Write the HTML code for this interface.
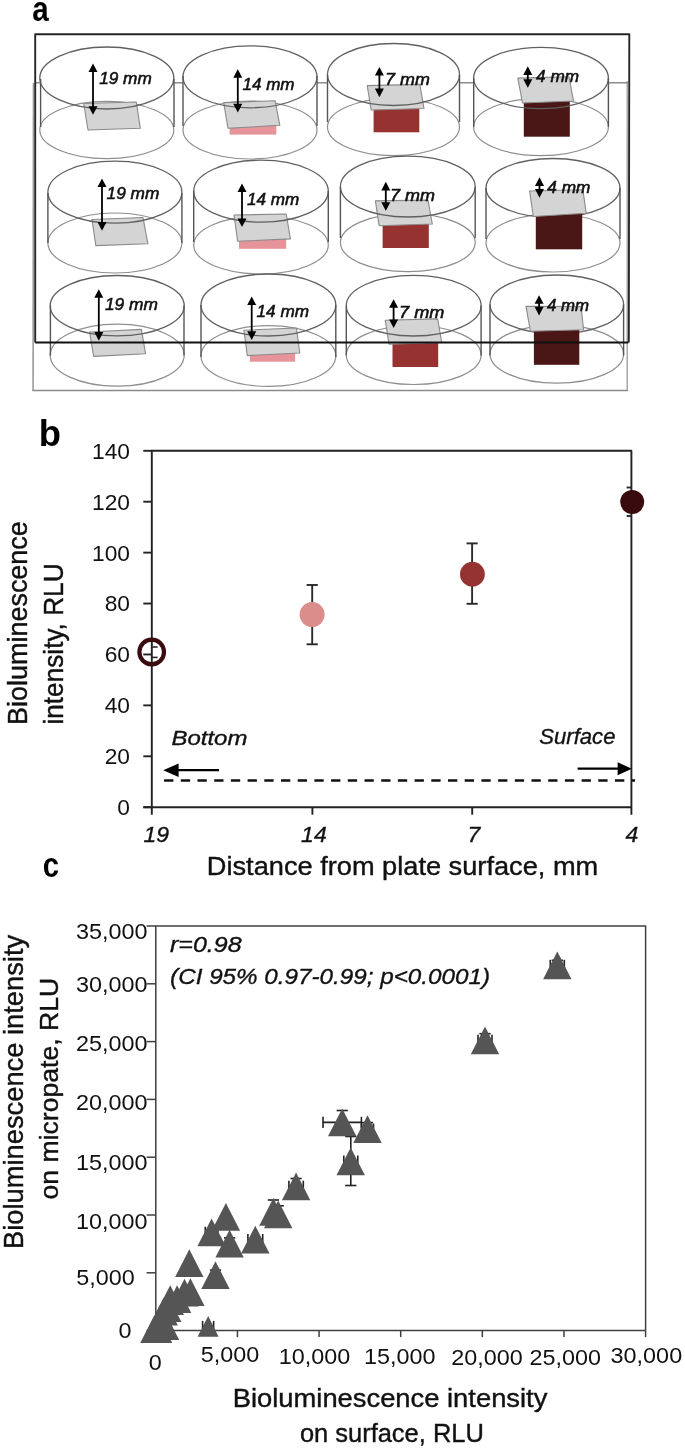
<!DOCTYPE html>
<html><head><meta charset="utf-8"><title>Figure</title>
<style>
html,body{margin:0;padding:0;background:#fff;}
body{width:685px;height:1449px;overflow:hidden;}
svg{display:block;will-change:transform;font-family:"Liberation Sans", sans-serif;}
</style></head>
<body>
<svg width="685" height="1449" viewBox="0 0 685 1449">
<rect x="0" y="0" width="685" height="1449" fill="#fff"/>
<g transform="translate(32.21 21.1) scale(0.8438 1)"><text x="0" y="0" font-size="35" fill="#000" font-weight="bold">a</text></g>
<line x1="33.5" y1="83" x2="33.1" y2="391" stroke="#9a9a9a" stroke-width="1.6"/>
<line x1="627.2" y1="81" x2="627.2" y2="391" stroke="#9a9a9a" stroke-width="1.3"/>
<line x1="32.6" y1="390.5" x2="627.8" y2="390.5" stroke="#8a8a8a" stroke-width="1.5"/>
<line x1="35.5" y1="82.8" x2="40.6" y2="82.8" stroke="#7a7a7a" stroke-width="1.3"/>
<line x1="174" y1="82.8" x2="183" y2="82.8" stroke="#7a7a7a" stroke-width="1.3"/>
<line x1="317" y1="82.8" x2="327.5" y2="82.8" stroke="#7a7a7a" stroke-width="1.3"/>
<line x1="459.5" y1="82.8" x2="473.7" y2="82.8" stroke="#7a7a7a" stroke-width="1.3"/>
<line x1="608.4" y1="82.8" x2="627.5" y2="82.8" stroke="#7a7a7a" stroke-width="1.3"/>
<ellipse cx="106.8" cy="130" rx="67" ry="28.6" fill="none" stroke="#8e8e8e" stroke-width="1.2"/>
<ellipse cx="250" cy="130" rx="67" ry="29" fill="none" stroke="#8e8e8e" stroke-width="1.2"/>
<ellipse cx="393.5" cy="127" rx="66" ry="28.6" fill="none" stroke="#8e8e8e" stroke-width="1.2"/>
<ellipse cx="541" cy="127" rx="67.4" ry="28.6" fill="none" stroke="#8e8e8e" stroke-width="1.2"/>
<ellipse cx="114.9" cy="243" rx="67" ry="30" fill="none" stroke="#8e8e8e" stroke-width="1.2"/>
<ellipse cx="261" cy="245" rx="67.3" ry="29" fill="none" stroke="#8e8e8e" stroke-width="1.2"/>
<ellipse cx="407.8" cy="242.6" rx="67.4" ry="29" fill="none" stroke="#8e8e8e" stroke-width="1.2"/>
<ellipse cx="553" cy="243" rx="67" ry="29" fill="none" stroke="#8e8e8e" stroke-width="1.2"/>
<ellipse cx="117.2" cy="355.2" rx="67" ry="31" fill="none" stroke="#8e8e8e" stroke-width="1.2"/>
<ellipse cx="268.4" cy="356" rx="67.4" ry="30.4" fill="none" stroke="#8e8e8e" stroke-width="1.2"/>
<ellipse cx="413.7" cy="355" rx="67.4" ry="29.5" fill="none" stroke="#8e8e8e" stroke-width="1.2"/>
<ellipse cx="556.8" cy="354" rx="66.8" ry="29.2" fill="none" stroke="#8e8e8e" stroke-width="1.2"/>
<polygon points="83.7,103.5 136.3,102 140.3,128.3 88,130" fill="#d4d4d4" stroke="#8a8a8a" stroke-width="1.1" stroke-linejoin="round"/>
<rect x="229.6" y="124.3" width="46.7" height="10.3" fill="#e6939a"/>
<polygon points="223.7,102.6 275.1,100.7 279.8,125.3 228,128.3" fill="#d4d4d4" stroke="#8a8a8a" stroke-width="1.1" stroke-linejoin="round"/>
<rect x="373.6" y="106" width="45.7" height="26.3" fill="#963331"/>
<polygon points="367.2,85.6 419.8,84.4 424,108.5 371.2,110" fill="#d4d4d4" stroke="#8a8a8a" stroke-width="1.1" stroke-linejoin="round"/>
<rect x="523.8" y="99" width="46" height="37.7" fill="#4a1616"/>
<polygon points="517.8,78.1 569,76.8 573.5,101 522.5,103" fill="#d4d4d4" stroke="#8a8a8a" stroke-width="1.1" stroke-linejoin="round"/>
<polygon points="92,219.5 143,217.5 147.9,243.8 95.8,245.6" fill="#d4d4d4" stroke="#8a8a8a" stroke-width="1.1" stroke-linejoin="round"/>
<rect x="239" y="237.3" width="47.2" height="11.5" fill="#e6939a"/>
<polygon points="234.1,215 286.2,214 290.4,238.9 237.6,241.3" fill="#d4d4d4" stroke="#8a8a8a" stroke-width="1.1" stroke-linejoin="round"/>
<rect x="382.6" y="221.7" width="46.2" height="26.3" fill="#963331"/>
<polygon points="375.4,200.9 428,200.1 432.3,224 379.1,225.7" fill="#d4d4d4" stroke="#8a8a8a" stroke-width="1.1" stroke-linejoin="round"/>
<polygon points="89.6,332 141.4,329.4 145.6,353.8 93.6,356.4" fill="#d4d4d4" stroke="#8a8a8a" stroke-width="1.1" stroke-linejoin="round"/>
<rect x="249.9" y="351.6" width="45.2" height="10.1" fill="#e6939a"/>
<polygon points="243.9,330.2 296.4,328 299.8,353 247.3,355.6" fill="#d4d4d4" stroke="#8a8a8a" stroke-width="1.1" stroke-linejoin="round"/>
<rect x="392.5" y="341.1" width="45.7" height="25.9" fill="#963331"/>
<polygon points="385.2,320.2 437.7,318.9 441.7,342.5 389.1,344.3" fill="#d4d4d4" stroke="#8a8a8a" stroke-width="1.1" stroke-linejoin="round"/>
<ellipse cx="106.8" cy="78" rx="67" ry="31" fill="none" stroke="#606060" stroke-width="1.3"/>
<line x1="40.6" y1="79" x2="40.6" y2="127" stroke="#555" stroke-width="1.4"/>
<line x1="174" y1="79" x2="174" y2="127" stroke="#555" stroke-width="1.4"/>
<ellipse cx="250" cy="76.8" rx="67" ry="31" fill="none" stroke="#606060" stroke-width="1.3"/>
<line x1="183" y1="76" x2="183" y2="126" stroke="#555" stroke-width="1.4"/>
<line x1="317" y1="76" x2="317" y2="126" stroke="#555" stroke-width="1.4"/>
<ellipse cx="393.5" cy="74.5" rx="66" ry="31" fill="none" stroke="#606060" stroke-width="1.3"/>
<line x1="327.5" y1="75" x2="327.5" y2="122" stroke="#555" stroke-width="1.4"/>
<line x1="459.5" y1="75" x2="459.5" y2="122" stroke="#555" stroke-width="1.4"/>
<ellipse cx="541" cy="78" rx="67.4" ry="30.7" fill="none" stroke="#606060" stroke-width="1.3"/>
<line x1="473.7" y1="78" x2="473.7" y2="126.7" stroke="#555" stroke-width="1.4"/>
<line x1="608.4" y1="78" x2="608.4" y2="126.7" stroke="#555" stroke-width="1.4"/>
<ellipse cx="114.9" cy="192.2" rx="67" ry="31" fill="none" stroke="#606060" stroke-width="1.3"/>
<line x1="47.9" y1="193" x2="47.9" y2="243" stroke="#555" stroke-width="1.4"/>
<line x1="181.9" y1="193" x2="181.9" y2="243" stroke="#555" stroke-width="1.4"/>
<ellipse cx="261" cy="191.2" rx="67.3" ry="31" fill="none" stroke="#606060" stroke-width="1.3"/>
<line x1="193.7" y1="191" x2="193.7" y2="242" stroke="#555" stroke-width="1.4"/>
<line x1="328.3" y1="191" x2="328.3" y2="242" stroke="#555" stroke-width="1.4"/>
<ellipse cx="407.8" cy="186.6" rx="67.4" ry="30.4" fill="none" stroke="#606060" stroke-width="1.3"/>
<line x1="340.4" y1="187" x2="340.4" y2="238" stroke="#555" stroke-width="1.4"/>
<line x1="475.2" y1="187" x2="475.2" y2="238" stroke="#555" stroke-width="1.4"/>
<ellipse cx="553" cy="188" rx="67" ry="29.5" fill="none" stroke="#606060" stroke-width="1.3"/>
<line x1="486" y1="188" x2="486" y2="239" stroke="#555" stroke-width="1.4"/>
<line x1="620" y1="188" x2="620" y2="239" stroke="#555" stroke-width="1.4"/>
<ellipse cx="117.2" cy="305.7" rx="67" ry="30.2" fill="none" stroke="#606060" stroke-width="1.3"/>
<line x1="50.4" y1="305.7" x2="50.4" y2="355.6" stroke="#555" stroke-width="1.4"/>
<line x1="184" y1="305.7" x2="184" y2="355.6" stroke="#555" stroke-width="1.4"/>
<ellipse cx="268.4" cy="305" rx="67.4" ry="31" fill="none" stroke="#606060" stroke-width="1.3"/>
<line x1="201" y1="305" x2="201" y2="357" stroke="#555" stroke-width="1.4"/>
<line x1="335.8" y1="305" x2="335.8" y2="357" stroke="#555" stroke-width="1.4"/>
<ellipse cx="413.7" cy="305.7" rx="67.4" ry="30.3" fill="none" stroke="#606060" stroke-width="1.3"/>
<line x1="346.3" y1="305.7" x2="346.3" y2="355.6" stroke="#555" stroke-width="1.4"/>
<line x1="481.1" y1="305.7" x2="481.1" y2="355.6" stroke="#555" stroke-width="1.4"/>
<ellipse cx="556.8" cy="304.4" rx="66.8" ry="29.4" fill="none" stroke="#606060" stroke-width="1.3"/>
<line x1="490" y1="304.4" x2="490" y2="355.6" stroke="#555" stroke-width="1.4"/>
<line x1="623.6" y1="304.4" x2="623.6" y2="355.6" stroke="#555" stroke-width="1.4"/>
<rect x="535.8" y="211" width="46.4" height="38.3" fill="#4a1616"/>
<polygon points="529.6,191 582.9,189.7 586.2,213.3 533.3,216.5" fill="#d4d4d4" stroke="#8a8a8a" stroke-width="1.1" stroke-linejoin="round"/>
<rect x="533.9" y="328" width="45.4" height="36.8" fill="#4a1616"/>
<polygon points="526,306.3 581,306.6 583.6,329.7 530.4,331.2" fill="#d4d4d4" stroke="#8a8a8a" stroke-width="1.1" stroke-linejoin="round"/>
<line x1="93" y1="71" x2="93" y2="107.2" stroke="#000" stroke-width="1.8"/>
<polygon points="93,63.4 88.5,72 97.5,72" fill="#000" stroke="none" stroke-width="1"/>
<polygon points="93,114.8 88.5,106.2 97.5,106.2" fill="#000" stroke="none" stroke-width="1"/>
<g transform="translate(99.17 83.7) scale(1.0069 1)"><text x="0" y="0" font-size="17.1" fill="#111" font-style="italic" stroke="#111" stroke-width="0.55">19 mm</text></g>
<line x1="237.8" y1="76.8" x2="237.8" y2="104.8" stroke="#000" stroke-width="1.8"/>
<polygon points="237.8,69.2 233.3,77.8 242.3,77.8" fill="#000" stroke="none" stroke-width="1"/>
<polygon points="237.8,112.4 233.3,103.8 242.3,103.8" fill="#000" stroke="none" stroke-width="1"/>
<g transform="translate(242.47 90) scale(0.9971 1)"><text x="0" y="0" font-size="17.1" fill="#111" font-style="italic" stroke="#111" stroke-width="0.55">14 mm</text></g>
<line x1="379.4" y1="74.5" x2="379.4" y2="89.6" stroke="#000" stroke-width="1.8"/>
<polygon points="379.4,66.9 374.9,75.5 383.9,75.5" fill="#000" stroke="none" stroke-width="1"/>
<polygon points="379.4,97.2 374.9,88.6 383.9,88.6" fill="#000" stroke="none" stroke-width="1"/>
<g transform="translate(385.12 85.4) scale(1.0473 1)"><text x="0" y="0" font-size="17.1" fill="#111" font-style="italic" stroke="#111" stroke-width="0.55">7 mm</text></g>
<line x1="527.8" y1="73.9" x2="527.8" y2="80.2" stroke="#000" stroke-width="1.8"/>
<polygon points="527.8,66.3 523.3,74.9 532.3,74.9" fill="#000" stroke="none" stroke-width="1"/>
<polygon points="527.8,87.8 523.3,79.2 532.3,79.2" fill="#000" stroke="none" stroke-width="1"/>
<g transform="translate(536.11 82) scale(1.0045 1)"><text x="0" y="0" font-size="17.1" fill="#111" font-style="italic" stroke="#111" stroke-width="0.55">4 mm</text></g>
<line x1="102" y1="186.1" x2="102" y2="223.1" stroke="#000" stroke-width="1.8"/>
<polygon points="102,178.5 97.5,187.1 106.5,187.1" fill="#000" stroke="none" stroke-width="1"/>
<polygon points="102,230.7 97.5,222.1 106.5,222.1" fill="#000" stroke="none" stroke-width="1"/>
<g transform="translate(106.57 198.9) scale(1.0108 1)"><text x="0" y="0" font-size="17.1" fill="#111" font-style="italic" stroke="#111" stroke-width="0.55">19 mm</text></g>
<line x1="242" y1="191.1" x2="242" y2="219.4" stroke="#000" stroke-width="1.8"/>
<polygon points="242,183.5 237.5,192.1 246.5,192.1" fill="#000" stroke="none" stroke-width="1"/>
<polygon points="242,227 237.5,218.4 246.5,218.4" fill="#000" stroke="none" stroke-width="1"/>
<g transform="translate(247.07 204.6) scale(1.0010 1)"><text x="0" y="0" font-size="17.1" fill="#111" font-style="italic" stroke="#111" stroke-width="0.55">14 mm</text></g>
<line x1="385.8" y1="189.4" x2="385.8" y2="203.2" stroke="#000" stroke-width="1.8"/>
<polygon points="385.8,181.8 381.3,190.4 390.3,190.4" fill="#000" stroke="none" stroke-width="1"/>
<polygon points="385.8,210.8 381.3,202.2 390.3,202.2" fill="#000" stroke="none" stroke-width="1"/>
<g transform="translate(390.11 201.4) scale(1.0523 1)"><text x="0" y="0" font-size="17.1" fill="#111" font-style="italic" stroke="#111" stroke-width="0.55">7 mm</text></g>
<line x1="539.5" y1="184.9" x2="539.5" y2="190.1" stroke="#000" stroke-width="1.8"/>
<polygon points="539.5,177.3 535,185.9 544,185.9" fill="#000" stroke="none" stroke-width="1"/>
<polygon points="539.5,197.7 535,189.1 544,189.1" fill="#000" stroke="none" stroke-width="1"/>
<g transform="translate(547.31 193.2) scale(1.0093 1)"><text x="0" y="0" font-size="17.1" fill="#111" font-style="italic" stroke="#111" stroke-width="0.55">4 mm</text></g>
<line x1="98.8" y1="296.8" x2="98.8" y2="333.1" stroke="#000" stroke-width="1.8"/>
<polygon points="98.8,289.2 94.3,297.8 103.3,297.8" fill="#000" stroke="none" stroke-width="1"/>
<polygon points="98.8,340.7 94.3,332.1 103.3,332.1" fill="#000" stroke="none" stroke-width="1"/>
<g transform="translate(104.97 309.6) scale(1.0147 1)"><text x="0" y="0" font-size="17.1" fill="#111" font-style="italic" stroke="#111" stroke-width="0.55">19 mm</text></g>
<line x1="251.7" y1="304.1" x2="251.7" y2="332.3" stroke="#000" stroke-width="1.8"/>
<polygon points="251.7,296.5 247.2,305.1 256.2,305.1" fill="#000" stroke="none" stroke-width="1"/>
<polygon points="251.7,339.9 247.2,331.3 256.2,331.3" fill="#000" stroke="none" stroke-width="1"/>
<g transform="translate(256.57 316.7) scale(1.0030 1)"><text x="0" y="0" font-size="17.1" fill="#111" font-style="italic" stroke="#111" stroke-width="0.55">14 mm</text></g>
<line x1="393.6" y1="306.8" x2="393.6" y2="320.4" stroke="#000" stroke-width="1.8"/>
<polygon points="393.6,299.2 389.1,307.8 398.1,307.8" fill="#000" stroke="none" stroke-width="1"/>
<polygon points="393.6,328 389.1,319.4 398.1,319.4" fill="#000" stroke="none" stroke-width="1"/>
<g transform="translate(399.1 318) scale(1.0598 1)"><text x="0" y="0" font-size="17.1" fill="#111" font-style="italic" stroke="#111" stroke-width="0.55">7 mm</text></g>
<line x1="539.1" y1="302.8" x2="539.1" y2="307.8" stroke="#000" stroke-width="1.8"/>
<polygon points="539.1,295.2 534.6,303.8 543.6,303.8" fill="#000" stroke="none" stroke-width="1"/>
<polygon points="539.1,315.4 534.6,306.8 543.6,306.8" fill="#000" stroke="none" stroke-width="1"/>
<g transform="translate(546.92 310.7) scale(0.9853 1)"><text x="0" y="0" font-size="17.1" fill="#111" font-style="italic" stroke="#111" stroke-width="0.55">4 mm</text></g>
<path d="M35.2,342.6 L35.2,34.2 L629.3,34.2 L628.8,342.6" fill="none" stroke="#262626" stroke-width="1.9" stroke-linejoin="round"/>
<line x1="35.2" y1="342.6" x2="628.4" y2="342.6" stroke="#111" stroke-width="2"/>
<g transform="translate(38.83 445.6) scale(1.0082 1)"><text x="0" y="0" font-size="36.14" fill="#000" font-weight="bold">b</text></g>
<path d="M151.8,814.7 L151.8,450.8 L631.4,450.8 L631.4,814.7" fill="none" stroke="#222" stroke-width="1.9" stroke-linejoin="round"/>
<line x1="143.3" y1="807.2" x2="631.4" y2="807.2" stroke="#222" stroke-width="1.9"/>
<line x1="143.3" y1="807.2" x2="151.8" y2="807.2" stroke="#222" stroke-width="1.9"/>
<g transform="translate(117.26 815.1) scale(1.0134 1)"><text x="0" y="0" font-size="22.46" fill="#111">0</text></g>
<line x1="143.3" y1="756.29" x2="151.8" y2="756.29" stroke="#222" stroke-width="1.9"/>
<g transform="translate(104.63 764.19) scale(1.0134 1)"><text x="0" y="0" font-size="22.46" fill="#111">20</text></g>
<line x1="143.3" y1="705.37" x2="151.8" y2="705.37" stroke="#222" stroke-width="1.9"/>
<g transform="translate(104.63 713.27) scale(1.0134 1)"><text x="0" y="0" font-size="22.46" fill="#111">40</text></g>
<line x1="143.3" y1="654.46" x2="151.8" y2="654.46" stroke="#222" stroke-width="1.9"/>
<g transform="translate(104.63 662.36) scale(1.0134 1)"><text x="0" y="0" font-size="22.46" fill="#111">60</text></g>
<line x1="143.3" y1="603.54" x2="151.8" y2="603.54" stroke="#222" stroke-width="1.9"/>
<g transform="translate(104.63 611.44) scale(1.0134 1)"><text x="0" y="0" font-size="22.46" fill="#111">80</text></g>
<line x1="143.3" y1="552.63" x2="151.8" y2="552.63" stroke="#222" stroke-width="1.9"/>
<g transform="translate(91.99 560.53) scale(1.0134 1)"><text x="0" y="0" font-size="22.46" fill="#111">100</text></g>
<line x1="143.3" y1="501.71" x2="151.8" y2="501.71" stroke="#222" stroke-width="1.9"/>
<g transform="translate(91.99 509.61) scale(1.0134 1)"><text x="0" y="0" font-size="22.46" fill="#111">120</text></g>
<line x1="143.3" y1="450.8" x2="151.8" y2="450.8" stroke="#222" stroke-width="1.9"/>
<g transform="translate(91.99 458.7) scale(1.0134 1)"><text x="0" y="0" font-size="22.46" fill="#111">140</text></g>
<line x1="312.4" y1="807.2" x2="312.4" y2="814.7" stroke="#222" stroke-width="1.9"/>
<line x1="472.2" y1="807.2" x2="472.2" y2="814.7" stroke="#222" stroke-width="1.9"/>
<g transform="translate(143.42 842.4) scale(1.0307 1)"><text x="0" y="0" font-size="22.32" fill="#111" font-style="italic" stroke="#111" stroke-width="0.35">19</text></g>
<g transform="translate(301.12 842.4) scale(1.0307 1)"><text x="0" y="0" font-size="22.32" fill="#111" font-style="italic" stroke="#111" stroke-width="0.35">14</text></g>
<g transform="translate(467.48 842.4) scale(1.0307 1)"><text x="0" y="0" font-size="22.32" fill="#111" font-style="italic" stroke="#111" stroke-width="0.35">7</text></g>
<g transform="translate(625.48 842.4) scale(1.0307 1)"><text x="0" y="0" font-size="22.32" fill="#111" font-style="italic" stroke="#111" stroke-width="0.35">4</text></g>
<g transform="translate(206.82 874.7) scale(1.0427 1)"><text x="0" y="0" font-size="26.09" fill="#111" stroke="#111" stroke-width="0.4">Distance from plate surface, mm</text></g>
<g transform="translate(27.3 722.9) rotate(-90) translate(-2.16 0) scale(0.9902 1)"><text x="0" y="0" font-size="27.25" fill="#111" stroke="#111" stroke-width="0.4">Bioluminescence</text></g>
<g transform="translate(63.3 722.9) rotate(-90) translate(-1.7 0) scale(0.9523 1)"><text x="0" y="0" font-size="27.54" fill="#111" stroke="#111" stroke-width="0.4">intensity, RLU</text></g>
<g transform="translate(171.48 745.2) scale(1.1819 1)"><text x="0" y="0" font-size="20.29" fill="#111" font-style="italic" stroke="#111" stroke-width="0.35">Bottom</text></g>
<g transform="translate(539.24 744) scale(1.0059 1)"><text x="0" y="0" font-size="22" fill="#111" font-style="italic" stroke="#111" stroke-width="0.35">Surface</text></g>
<line x1="178" y1="770.2" x2="219" y2="770.2" stroke="#000" stroke-width="2.2"/>
<polygon points="163.2,770.2 178.6,763.5 178.6,776.9" fill="#000" stroke="none" stroke-width="1"/>
<line x1="577.6" y1="768.7" x2="618" y2="768.7" stroke="#000" stroke-width="2.2"/>
<polygon points="631.8,768.7 617.6,762.2 617.6,775.2" fill="#000" stroke="none" stroke-width="1"/>
<line x1="164.1" y1="780.5" x2="635" y2="780.5" stroke="#111" stroke-width="2.3" stroke-dasharray="9.3 7.4"/>
<line x1="151.8" y1="647" x2="157.6" y2="647" stroke="#2a2a2a" stroke-width="1.6"/>
<line x1="151.8" y1="657.4" x2="157.6" y2="657.4" stroke="#2a2a2a" stroke-width="1.6"/>
<circle cx="151.7" cy="652" r="12.3" fill="none" stroke="#3a0c0e" stroke-width="4.2"/>
<line x1="312.2" y1="585" x2="312.2" y2="644.3" stroke="#2a2a2a" stroke-width="1.9"/>
<line x1="306.6" y1="585" x2="317.8" y2="585" stroke="#2a2a2a" stroke-width="1.9"/>
<line x1="306.6" y1="644.3" x2="317.8" y2="644.3" stroke="#2a2a2a" stroke-width="1.9"/>
<circle cx="312.1" cy="614.6" r="12.5" fill="#db8d8c"/>
<line x1="472.1" y1="543.4" x2="472.1" y2="603.8" stroke="#2a2a2a" stroke-width="1.9"/>
<line x1="466.5" y1="543.4" x2="477.7" y2="543.4" stroke="#2a2a2a" stroke-width="1.9"/>
<line x1="466.5" y1="603.8" x2="477.7" y2="603.8" stroke="#2a2a2a" stroke-width="1.9"/>
<circle cx="472.4" cy="574.2" r="12.4" fill="#953232"/>
<line x1="626.6" y1="487.5" x2="632" y2="487.5" stroke="#2a2a2a" stroke-width="1.9"/>
<line x1="626.6" y1="516" x2="632" y2="516" stroke="#2a2a2a" stroke-width="1.9"/>
<circle cx="632.2" cy="502" r="12" fill="#380c0e"/>
<g transform="translate(42.73 876.8) scale(0.8365 1)"><text x="0" y="0" font-size="35" fill="#000" font-weight="bold">c</text></g>
<path d="M155.8,1330.6 L155.8,926 L645.6,926 L645.6,1330.6" fill="none" stroke="#404040" stroke-width="1.5" stroke-linejoin="round"/>
<line x1="155.8" y1="1330.6" x2="645.6" y2="1330.6" stroke="#404040" stroke-width="1.5"/>
<line x1="146.6" y1="1330.6" x2="155.8" y2="1330.6" stroke="#404040" stroke-width="1.5"/>
<line x1="146.6" y1="1272.8" x2="155.8" y2="1272.8" stroke="#404040" stroke-width="1.5"/>
<line x1="146.6" y1="1215" x2="155.8" y2="1215" stroke="#404040" stroke-width="1.5"/>
<line x1="146.6" y1="1157.2" x2="155.8" y2="1157.2" stroke="#404040" stroke-width="1.5"/>
<line x1="146.6" y1="1099.4" x2="155.8" y2="1099.4" stroke="#404040" stroke-width="1.5"/>
<line x1="146.6" y1="1041.6" x2="155.8" y2="1041.6" stroke="#404040" stroke-width="1.5"/>
<line x1="146.6" y1="983.8" x2="155.8" y2="983.8" stroke="#404040" stroke-width="1.5"/>
<line x1="146.6" y1="926" x2="155.8" y2="926" stroke="#404040" stroke-width="1.5"/>
<line x1="237.43" y1="1330.6" x2="237.43" y2="1337.1" stroke="#404040" stroke-width="1.5"/>
<line x1="319.07" y1="1330.6" x2="319.07" y2="1337.1" stroke="#404040" stroke-width="1.5"/>
<line x1="400.7" y1="1330.6" x2="400.7" y2="1337.1" stroke="#404040" stroke-width="1.5"/>
<line x1="482.33" y1="1330.6" x2="482.33" y2="1337.1" stroke="#404040" stroke-width="1.5"/>
<line x1="563.97" y1="1330.6" x2="563.97" y2="1337.1" stroke="#404040" stroke-width="1.5"/>
<line x1="645.6" y1="1330.6" x2="645.6" y2="1337.1" stroke="#404040" stroke-width="1.5"/>
<g transform="translate(75.96 938.6) scale(1.0986 1)"><text x="0" y="0" font-size="21.29" fill="#111">35,000</text></g>
<g transform="translate(75.96 991.9) scale(1.0986 1)"><text x="0" y="0" font-size="21.29" fill="#111">30,000</text></g>
<g transform="translate(75.96 1050.5) scale(1.0986 1)"><text x="0" y="0" font-size="21.29" fill="#111">25,000</text></g>
<g transform="translate(75.96 1110.2) scale(1.0986 1)"><text x="0" y="0" font-size="21.29" fill="#111">20,000</text></g>
<g transform="translate(75.96 1169.6) scale(1.0986 1)"><text x="0" y="0" font-size="21.29" fill="#111">15,000</text></g>
<g transform="translate(75.96 1228.5) scale(1.0986 1)"><text x="0" y="0" font-size="21.29" fill="#111">10,000</text></g>
<g transform="translate(76.26 1284.8) scale(1.0986 1)"><text x="0" y="0" font-size="21.29" fill="#111">5,000</text></g>
<g transform="translate(118.54 1338.4) scale(1.0986 1)"><text x="0" y="0" font-size="21.29" fill="#111">0</text></g>
<g transform="translate(148.65 1370.1) scale(1.0986 1)"><text x="0" y="0" font-size="21.29" fill="#111">0</text></g>
<g transform="translate(200.86 1361.6) scale(1.0986 1)"><text x="0" y="0" font-size="21.29" fill="#111">5,000</text></g>
<g transform="translate(278.76 1363.8) scale(1.0986 1)"><text x="0" y="0" font-size="21.29" fill="#111">10,000</text></g>
<g transform="translate(363.91 1364) scale(1.0986 1)"><text x="0" y="0" font-size="21.29" fill="#111">15,000</text></g>
<g transform="translate(451.35 1365.1) scale(1.0986 1)"><text x="0" y="0" font-size="21.29" fill="#111">20,000</text></g>
<g transform="translate(529.55 1364.9) scale(1.0986 1)"><text x="0" y="0" font-size="21.29" fill="#111">25,000</text></g>
<g transform="translate(610.61 1363) scale(1.0986 1)"><text x="0" y="0" font-size="21.29" fill="#111">30,000</text></g>
<g transform="translate(232.71 1407) scale(1.0488 1)"><text x="0" y="0" font-size="26.09" fill="#111" stroke="#111" stroke-width="0.4">Bioluminescence intensity</text></g>
<g transform="translate(299.88 1442.2) scale(0.9764 1)"><text x="0" y="0" font-size="26.09" fill="#111" stroke="#111" stroke-width="0.4">on surface, RLU</text></g>
<g transform="translate(22.7 1246.8) rotate(-90) translate(-2.19 0) scale(1.0029 1)"><text x="0" y="0" font-size="27.25" fill="#111" stroke="#111" stroke-width="0.4">Bioluminescence intensity</text></g>
<g transform="translate(57.7 1198.4) rotate(-90) translate(-1.06 0) scale(1.0194 1)"><text x="0" y="0" font-size="26.09" fill="#111" stroke="#111" stroke-width="0.4">on micropate, RLU</text></g>
<g transform="translate(170.03 951.8) scale(1.1218 1)"><text x="0" y="0" font-size="22.29" fill="#111" font-style="italic" stroke="#111" stroke-width="0.35">r=0.98</text></g>
<g transform="translate(170.11 984.4) scale(1.0607 1)"><text x="0" y="0" font-size="22.86" fill="#111" font-style="italic" stroke="#111" stroke-width="0.35">(CI 95% 0.97-0.99; p&lt;0.0001)</text></g>
<line x1="342.2" y1="1110.5" x2="342.2" y2="1134.3" stroke="#222" stroke-width="1.6"/>
<line x1="336.6" y1="1110.5" x2="347.8" y2="1110.5" stroke="#222" stroke-width="1.6"/>
<line x1="336.6" y1="1134.3" x2="347.8" y2="1134.3" stroke="#222" stroke-width="1.6"/>
<line x1="323" y1="1122.4" x2="361.4" y2="1122.4" stroke="#222" stroke-width="1.6"/>
<line x1="323" y1="1116.8" x2="323" y2="1128" stroke="#222" stroke-width="1.6"/>
<line x1="361.4" y1="1116.8" x2="361.4" y2="1128" stroke="#222" stroke-width="1.6"/>
<line x1="367.5" y1="1122.6" x2="367.5" y2="1135.8" stroke="#222" stroke-width="1.6"/>
<line x1="361.9" y1="1122.6" x2="373.1" y2="1122.6" stroke="#222" stroke-width="1.6"/>
<line x1="361.9" y1="1135.8" x2="373.1" y2="1135.8" stroke="#222" stroke-width="1.6"/>
<line x1="361.5" y1="1129.2" x2="373.5" y2="1129.2" stroke="#222" stroke-width="1.6"/>
<line x1="361.5" y1="1123.6" x2="361.5" y2="1134.8" stroke="#222" stroke-width="1.6"/>
<line x1="373.5" y1="1123.6" x2="373.5" y2="1134.8" stroke="#222" stroke-width="1.6"/>
<line x1="350.8" y1="1136.5" x2="350.8" y2="1185.5" stroke="#222" stroke-width="1.6"/>
<line x1="345.2" y1="1136.5" x2="356.4" y2="1136.5" stroke="#222" stroke-width="1.6"/>
<line x1="345.2" y1="1185.5" x2="356.4" y2="1185.5" stroke="#222" stroke-width="1.6"/>
<line x1="343.8" y1="1161" x2="357.8" y2="1161" stroke="#222" stroke-width="1.6"/>
<line x1="343.8" y1="1155.4" x2="343.8" y2="1166.6" stroke="#222" stroke-width="1.6"/>
<line x1="357.8" y1="1155.4" x2="357.8" y2="1166.6" stroke="#222" stroke-width="1.6"/>
<line x1="296.1" y1="1178.5" x2="296.1" y2="1194.1" stroke="#222" stroke-width="1.6"/>
<line x1="290.5" y1="1178.5" x2="301.7" y2="1178.5" stroke="#222" stroke-width="1.6"/>
<line x1="290.5" y1="1194.1" x2="301.7" y2="1194.1" stroke="#222" stroke-width="1.6"/>
<line x1="288.9" y1="1186.3" x2="303.3" y2="1186.3" stroke="#222" stroke-width="1.6"/>
<line x1="288.9" y1="1180.7" x2="288.9" y2="1191.9" stroke="#222" stroke-width="1.6"/>
<line x1="303.3" y1="1180.7" x2="303.3" y2="1191.9" stroke="#222" stroke-width="1.6"/>
<line x1="273.4" y1="1200" x2="273.4" y2="1223.6" stroke="#222" stroke-width="1.6"/>
<line x1="267.8" y1="1200" x2="279" y2="1200" stroke="#222" stroke-width="1.6"/>
<line x1="267.8" y1="1223.6" x2="279" y2="1223.6" stroke="#222" stroke-width="1.6"/>
<line x1="278.2" y1="1205.8" x2="278.2" y2="1222.8" stroke="#222" stroke-width="1.6"/>
<line x1="272.6" y1="1205.8" x2="283.8" y2="1205.8" stroke="#222" stroke-width="1.6"/>
<line x1="272.6" y1="1222.8" x2="283.8" y2="1222.8" stroke="#222" stroke-width="1.6"/>
<line x1="205.3" y1="1232.3" x2="217.9" y2="1232.3" stroke="#222" stroke-width="1.6"/>
<line x1="205.3" y1="1226.7" x2="205.3" y2="1237.9" stroke="#222" stroke-width="1.6"/>
<line x1="217.9" y1="1226.7" x2="217.9" y2="1237.9" stroke="#222" stroke-width="1.6"/>
<line x1="229.6" y1="1237.9" x2="229.6" y2="1249.5" stroke="#222" stroke-width="1.6"/>
<line x1="224" y1="1237.9" x2="235.2" y2="1237.9" stroke="#222" stroke-width="1.6"/>
<line x1="224" y1="1249.5" x2="235.2" y2="1249.5" stroke="#222" stroke-width="1.6"/>
<line x1="247.9" y1="1239.6" x2="262.7" y2="1239.6" stroke="#222" stroke-width="1.6"/>
<line x1="247.9" y1="1234" x2="247.9" y2="1245.2" stroke="#222" stroke-width="1.6"/>
<line x1="262.7" y1="1234" x2="262.7" y2="1245.2" stroke="#222" stroke-width="1.6"/>
<line x1="215.5" y1="1270.1" x2="215.5" y2="1280.3" stroke="#222" stroke-width="1.6"/>
<line x1="209.9" y1="1270.1" x2="221.1" y2="1270.1" stroke="#222" stroke-width="1.6"/>
<line x1="209.9" y1="1280.3" x2="221.1" y2="1280.3" stroke="#222" stroke-width="1.6"/>
<line x1="557.3" y1="960.3" x2="557.3" y2="970.5" stroke="#222" stroke-width="1.6"/>
<line x1="551.7" y1="960.3" x2="562.9" y2="960.3" stroke="#222" stroke-width="1.6"/>
<line x1="551.7" y1="970.5" x2="562.9" y2="970.5" stroke="#222" stroke-width="1.6"/>
<line x1="550.3" y1="965.4" x2="564.3" y2="965.4" stroke="#222" stroke-width="1.6"/>
<line x1="550.3" y1="959.8" x2="550.3" y2="971" stroke="#222" stroke-width="1.6"/>
<line x1="564.3" y1="959.8" x2="564.3" y2="971" stroke="#222" stroke-width="1.6"/>
<line x1="485" y1="1033.7" x2="485" y2="1047.1" stroke="#222" stroke-width="1.6"/>
<line x1="479.4" y1="1033.7" x2="490.6" y2="1033.7" stroke="#222" stroke-width="1.6"/>
<line x1="479.4" y1="1047.1" x2="490.6" y2="1047.1" stroke="#222" stroke-width="1.6"/>
<line x1="478" y1="1040.4" x2="492" y2="1040.4" stroke="#222" stroke-width="1.6"/>
<line x1="478" y1="1034.8" x2="478" y2="1046" stroke="#222" stroke-width="1.6"/>
<line x1="492" y1="1034.8" x2="492" y2="1046" stroke="#222" stroke-width="1.6"/>
<line x1="202.6" y1="1326.5" x2="213.6" y2="1326.5" stroke="#222" stroke-width="1.6"/>
<line x1="202.6" y1="1320.9" x2="202.6" y2="1332.1" stroke="#222" stroke-width="1.6"/>
<line x1="213.6" y1="1320.9" x2="213.6" y2="1332.1" stroke="#222" stroke-width="1.6"/>
<polygon points="154.4,1315.3 168.6,1343.1 140.2,1343.1" fill="#555555" stroke="none" stroke-width="1"/>
<polygon points="158,1315.3 172.2,1343.1 143.8,1343.1" fill="#555555" stroke="none" stroke-width="1"/>
<polygon points="165,1312.1 179.2,1339.9 150.8,1339.9" fill="#555555" stroke="none" stroke-width="1"/>
<polygon points="160.5,1304.1 174.7,1331.9 146.3,1331.9" fill="#555555" stroke="none" stroke-width="1"/>
<polygon points="163.7,1297.6 177.9,1325.4 149.5,1325.4" fill="#555555" stroke="none" stroke-width="1"/>
<polygon points="167.2,1294.1 181.4,1321.9 153,1321.9" fill="#555555" stroke="none" stroke-width="1"/>
<polygon points="169.8,1287.1 184,1314.9 155.6,1314.9" fill="#555555" stroke="none" stroke-width="1"/>
<polygon points="170.2,1285.3 184.4,1313.1 156,1313.1" fill="#555555" stroke="none" stroke-width="1"/>
<polygon points="177.1,1285.3 191.3,1313.1 162.9,1313.1" fill="#555555" stroke="none" stroke-width="1"/>
<polygon points="184.5,1278.7 198.7,1306.5 170.3,1306.5" fill="#555555" stroke="none" stroke-width="1"/>
<polygon points="190.4,1278.3 204.6,1306.1 176.2,1306.1" fill="#555555" stroke="none" stroke-width="1"/>
<polygon points="189.3,1249.3 203.5,1277.1 175.1,1277.1" fill="#555555" stroke="none" stroke-width="1"/>
<polygon points="215.5,1261.3 229.7,1289.1 201.3,1289.1" fill="#555555" stroke="none" stroke-width="1"/>
<polygon points="225.9,1203 240.1,1230.8 211.7,1230.8" fill="#555555" stroke="none" stroke-width="1"/>
<polygon points="211.6,1218.4 225.8,1246.2 197.4,1246.2" fill="#555555" stroke="none" stroke-width="1"/>
<polygon points="229.6,1229.8 243.8,1257.6 215.4,1257.6" fill="#555555" stroke="none" stroke-width="1"/>
<polygon points="255.3,1225.7 269.5,1253.5 241.1,1253.5" fill="#555555" stroke="none" stroke-width="1"/>
<polygon points="273.4,1197.9 287.6,1225.7 259.2,1225.7" fill="#555555" stroke="none" stroke-width="1"/>
<polygon points="278.2,1200.4 292.4,1228.2 264,1228.2" fill="#555555" stroke="none" stroke-width="1"/>
<polygon points="296.1,1172.4 310.3,1200.2 281.9,1200.2" fill="#555555" stroke="none" stroke-width="1"/>
<polygon points="342.2,1108.4 356.4,1136.2 328,1136.2" fill="#555555" stroke="none" stroke-width="1"/>
<polygon points="367.5,1115.3 381.7,1143.1 353.3,1143.1" fill="#555555" stroke="none" stroke-width="1"/>
<polygon points="350.7,1147.4 364.9,1175.2 336.5,1175.2" fill="#555555" stroke="none" stroke-width="1"/>
<polygon points="557.3,951.5 571.5,979.3 543.1,979.3" fill="#555555" stroke="none" stroke-width="1"/>
<polygon points="485,1026.5 499.2,1054.3 470.8,1054.3" fill="#555555" stroke="none" stroke-width="1"/>
<polygon points="208.2,1316.1 218.6,1336.8 197.6,1336.8" fill="#555555" stroke="none" stroke-width="1"/>
</svg>
</body></html>
